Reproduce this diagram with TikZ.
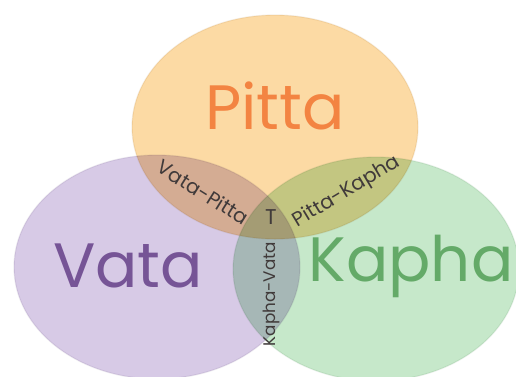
\documentclass[tikz,border=0pt]{standalone}
\usepackage{fontspec}
\setmainfont{Poppins}
\usetikzlibrary{shapes.geometric}

\definecolor{pittafill}{RGB}{252,218,164}
\definecolor{vatafill}{RGB}{215,202,230}
\definecolor{kaphafill}{RGB}{198,232,202}
\definecolor{pittatext}{RGB}{243,132,66}
\definecolor{vatatext}{RGB}{118,84,150}
\definecolor{kaphatext}{RGB}{100,170,104}
\definecolor{smalltext}{RGB}{64,58,58}

\tikzset{every picture/.style={line width=0.75pt}}
\tikzset{
  dosha/.style={ellipse, minimum width=214.5pt, minimum height=168pt, inner sep=0pt},
  bigname/.style={inner sep=0.75pt, font=\fontsize{47}{47}\selectfont},
  pairname/.style={inner sep=0.75pt, text=smalltext, font=\fontsize{15}{15}\selectfont}
}

\begin{document}
\begin{tikzpicture}[x=0.75pt,y=0.75pt,yscale=-1,xscale=1]
\useasboundingbox (0,0) rectangle (516,376);
\clip (0,0) rectangle (516,376);

% Dosha circles
\begin{scope}[blend group=multiply]
\node [dosha, fill=pittafill, draw=pittafill!80!black, draw opacity=0.2] (pitta) at (275,127) {};
\node [dosha, fill=vatafill, draw=vatafill!80!black, draw opacity=0.2] (vata) at (157,267) {};
\node [dosha, fill=kaphafill, draw=kaphafill!80!black, draw opacity=0.2] (kapha) at (376,269) {};
\end{scope}

% Text Node
\node [bigname, text=pittatext] (pittaname) at (275,106) {Pitta};
% Text Node
\node [bigname, text=vatatext] (vataname) at (128,266) {Vata};
% Text Node
\node [bigname, text=kaphatext] (kaphaname) at (411,266) {Kapha};
% Text Node
\node [pairname, rotate=-32] (vatapitta) at (203,192) {Vata-Pitta};
% Text Node
\node [pairname, rotate=31] (pittakapha) at (347,192) {Pitta-Kapha};
% Text Node
\node [pairname, rotate=90, font=\fontsize{12.6}{12.6}\selectfont] (kaphavata) at (271,294) {Kapha-Vata};
% Text Node
\node [pairname, font=\fontsize{16}{16}\selectfont] (triple) at (271,217) {T};

\end{tikzpicture}
\end{document}
